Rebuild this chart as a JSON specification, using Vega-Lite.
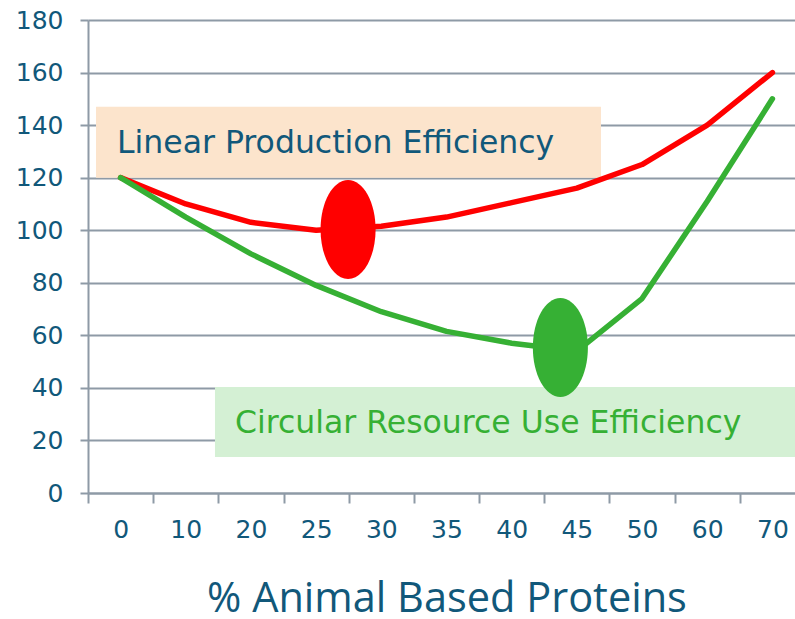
{
  "$schema": "https://vega.github.io/schema/vega-lite/v6.json",
  "width": 707,
  "height": 473,
  "autosize": {"type": "none"},
  "padding": {"left": 88, "top": 20, "right": 0, "bottom": 126},
  "background": "white",
  "config": {"view": {"stroke": null}, "font": "DejaVu Sans"},
  "datasets": {
    "series": [
      {"pct": "0", "series": "Linear", "v": 120},
      {"pct": "10", "series": "Linear", "v": 110},
      {"pct": "20", "series": "Linear", "v": 103},
      {"pct": "25", "series": "Linear", "v": 100},
      {"pct": "30", "series": "Linear", "v": 101.5},
      {"pct": "35", "series": "Linear", "v": 105},
      {"pct": "40", "series": "Linear", "v": 110.5},
      {"pct": "45", "series": "Linear", "v": 116},
      {"pct": "50", "series": "Linear", "v": 125},
      {"pct": "60", "series": "Linear", "v": 140},
      {"pct": "70", "series": "Linear", "v": 160},
      {"pct": "0", "series": "Circular", "v": 120},
      {"pct": "10", "series": "Circular", "v": 105},
      {"pct": "20", "series": "Circular", "v": 91},
      {"pct": "25", "series": "Circular", "v": 79},
      {"pct": "30", "series": "Circular", "v": 69},
      {"pct": "35", "series": "Circular", "v": 61.5},
      {"pct": "40", "series": "Circular", "v": 57},
      {"pct": "45", "series": "Circular", "v": 54},
      {"pct": "50", "series": "Circular", "v": 74},
      {"pct": "60", "series": "Circular", "v": 111},
      {"pct": "70", "series": "Circular", "v": 150}
    ],
    "boxes": [
      {"kind": "Linear", "label": "Linear Production Efficiency", "x0": -0.377, "x1": 7.37, "y0": 120, "y1": 147, "tx": -0.055, "ty": 129.4},
      {"kind": "Circular", "label": "Circular Resource Use Efficiency", "x0": 1.448, "x1": 10.5, "y0": 13.7, "y1": 40.3, "tx": 1.755, "ty": 22.8}
    ],
    "markers": [
      {"kind": "Linear", "xi": 3.49, "v": 100.3},
      {"kind": "Circular", "xi": 6.747, "v": 55.4}
    ]
  },
  "resolve": {
    "scale": {"x": "independent", "color": "independent", "fill": "independent", "stroke": "independent"},
    "axis": {"x": "independent"}
  },
  "layer": [
    {
      "data": {"name": "boxes"},
      "mark": {"type": "rect"},
      "encoding": {
        "x": {"field": "x0", "type": "quantitative", "scale": {"domain": [-0.5, 10.5], "range": [0, 717], "nice": false, "zero": false}, "axis": null},
        "x2": {"field": "x1"},
        "y": {"field": "y0", "type": "quantitative", "title": null},
        "y2": {"field": "y1"},
        "fill": {"field": "kind", "type": "nominal", "scale": {"domain": ["Linear", "Circular"], "range": ["#FCE4CC", "#D4F0D4"]}, "legend": null}
      }
    },
    {
      "data": {"name": "series"},
      "mark": {"type": "line", "strokeWidth": 5.5, "strokeCap": "round", "strokeJoin": "round"},
      "encoding": {
        "x": {
          "field": "pct", "type": "nominal", "sort": null,
          "scale": {"paddingInner": 0, "paddingOuter": 0, "range": [0, 717]},
          "axis": {
            "labelAngle": 0, "tickBand": "extent", "tickSize": 10, "tickColor": "#8E9AA6", "tickWidth": 2,
            "domainColor": "#8E9AA6", "domainWidth": 2, "labelFontSize": 25, "labelColor": "#11587A",
            "labelFont": "DejaVu Sans", "labelPadding": 14, "grid": false,
            "title": "% Animal Based Proteins", "titleFont": "Open Sans", "titleFontSize": 41.5, "titleFontWeight": "normal",
            "titleColor": "#11587A", "titlePadding": 36
          }
        },
        "y": {
          "field": "v", "type": "quantitative",
          "scale": {"domain": [0, 180], "nice": false, "zero": true},
          "axis": {
            "values": [0, 20, 40, 60, 80, 100, 120, 140, 160, 180], "grid": true, "gridColor": "#8E9AA6", "gridWidth": 2,
            "domainColor": "#8E9AA6", "domainWidth": 2, "tickColor": "#8E9AA6", "tickWidth": 2, "tickSize": 8,
            "labelFontSize": 25, "labelColor": "#11587A", "labelFont": "DejaVu Sans", "labelPadding": 17, "title": null
          }
        },
        "stroke": {"field": "series", "type": "nominal", "scale": {"domain": ["Linear", "Circular"], "range": ["#FF0000", "#36B034"]}, "legend": null}
      }
    },
    {
      "data": {"name": "markers"},
      "mark": {"type": "point", "filled": true, "opacity": 1, "strokeWidth": 0, "size": 9801,
        "shape": "M0,-1C0.307,-1,0.556,-0.552,0.556,0C0.556,0.552,0.307,1,0,1C-0.307,1,-0.556,0.552,-0.556,0C-0.556,-0.552,-0.307,-1,0,-1Z"},
      "encoding": {
        "x": {"field": "xi", "type": "quantitative", "scale": {"domain": [-0.5, 10.5], "range": [0, 717], "nice": false, "zero": false}, "axis": null},
        "y": {"field": "v", "type": "quantitative", "title": null},
        "color": {"field": "kind", "type": "nominal", "scale": {"domain": ["Linear", "Circular"], "range": ["#FF0000", "#36B034"]}, "legend": null}
      }
    },
    {
      "data": {"name": "boxes"},
      "mark": {"type": "text", "align": "left", "baseline": "alphabetic", "fontSize": 31.5, "font": "DejaVu Sans"},
      "encoding": {
        "x": {"field": "tx", "type": "quantitative", "scale": {"domain": [-0.5, 10.5], "range": [0, 717], "nice": false, "zero": false}, "axis": null},
        "y": {"field": "ty", "type": "quantitative", "title": null},
        "text": {"field": "label"},
        "color": {"field": "kind", "type": "nominal", "scale": {"domain": ["Linear", "Circular"], "range": ["#11587A", "#36B034"]}, "legend": null}
      }
    }
  ]
}
